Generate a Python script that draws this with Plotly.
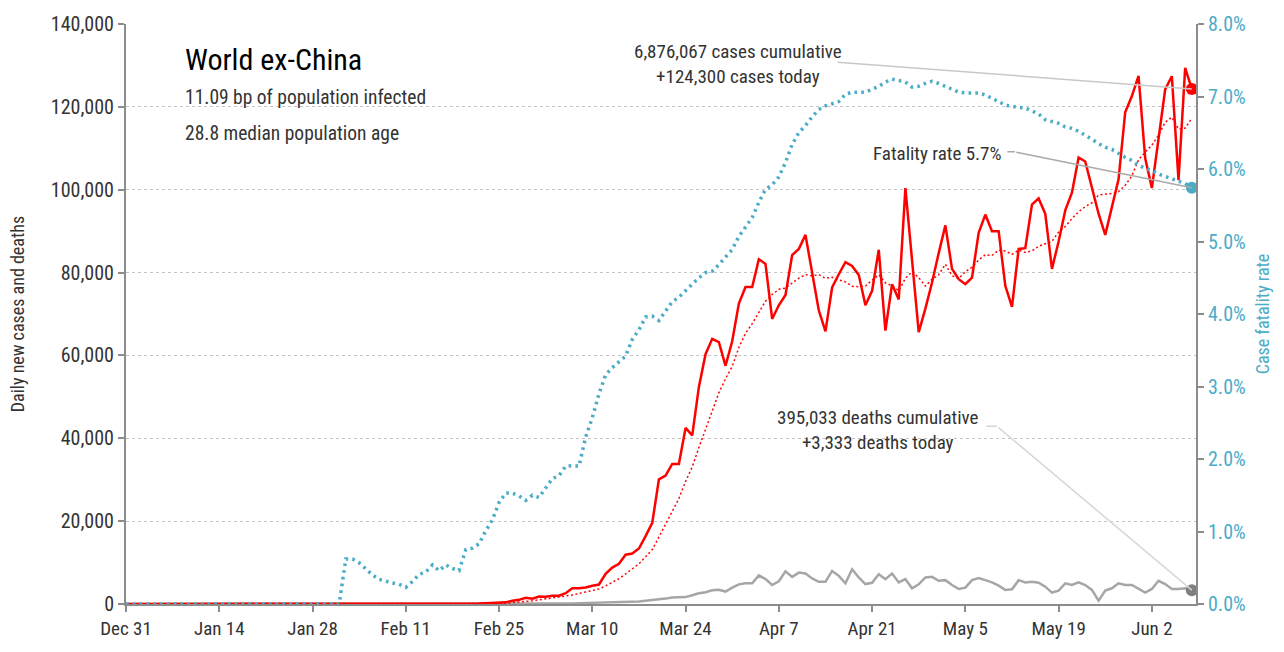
import pandas as pd
import plotly.graph_objects as go

dates = pd.date_range("2019-12-31", periods=161, freq="D")

daily_cases = (
    [0, 0, 0, 0, 0, 0, 0, 0, 0, 0, 0, 0, 0, 1, 0, 0, 1, 1, 0, 1]
    + [5, 3, 4, 10, 9, 14, 10, 15, 22, 8, 20, 25]
    + [20, 12, 15, 25, 40, 30, 15, 20, 40, 30, 50, 20, 30, 40, 60, 80, 100, 90, 90]
    + [100, 120, 150, 200, 220, 240, 400, 800, 1000, 1500, 1260, 1800, 1750, 2000]
    + [2000, 2600, 3800, 3800, 4000, 4400, 4700, 7300, 8800, 9700, 11900, 12200, 13400,
       16400, 19600, 30100, 31000, 33800, 33800, 42500, 40700, 52400, 60300, 64000,
       63200, 57500, 63400, 72500, 76500, 76500, 83200]
    + [82100, 68800, 72100, 74600, 84200, 85700, 89100, 80000, 70900, 65800, 76400,
       79600, 82500, 81600, 79400, 72100, 75600, 85500, 66000, 77200, 73500, 100400,
       83200, 65600, 71300, 77600, 84700, 91400, 80900, 78400, 77200]
    + [78800, 89600, 94000, 90000, 90000, 76800, 71700, 85700, 85900, 96400, 97900,
       94200, 80900, 87500, 95000, 99300, 107800, 106800, 100500, 94200, 89100, 95800,
       102500, 118700, 122600, 127500, 107600, 100400, 112800, 124200, 127400, 102300,
       129400, 124300]
)

daily_deaths = (
    [0] * 33
    + [1, 0, 0, 0, 0, 0, 0, 0, 0, 0, 1, 0, 0, 1, 2, 1, 3, 5]
    + [8, 10, 12, 15, 12, 20, 15, 30, 40, 45, 50, 55, 70, 90]
    + [100, 120, 150, 200, 230, 250, 300, 330, 380, 400, 420, 500, 630, 790, 900, 1180,
       1300, 1580, 1700, 1660, 2130, 2600, 2840, 3320, 3450, 3000, 3950, 4740, 4980,
       4980, 6900, 6000, 4580, 5500]
    + [7900, 6550, 7580, 7350, 6160, 5370, 5370, 7980, 6790, 4980, 8370, 6400, 4820,
       5130, 7190, 6000, 7350, 5210, 6000, 3790, 4740, 6400, 6550, 5610, 5760, 4580,
       3630, 3950, 5760, 6240, 5760, 5210, 4420, 3400, 3550, 5760, 5210, 5370, 5130,
       4180, 2760, 3240, 4980, 4580, 5210, 4580, 3400, 790, 3240, 3790, 4980, 4580,
       4580, 3630, 2760, 3630, 5610, 4820, 3630, 3630, 3790, 3333]
)

fatality_rate = (
    [0.0] * 33
    + [0.62, 0.62, 0.57, 0.48, 0.40, 0.34, 0.31, 0.29, 0.27, 0.23, 0.31, 0.41, 0.44,
       0.54, 0.46, 0.54, 0.49, 0.46, 0.75, 0.77, 0.83, 1.01, 1.16, 1.40, 1.53, 1.53,
       1.49, 1.43, 1.50, 1.47, 1.60, 1.73, 1.77, 1.90, 1.91, 1.90, 2.30, 2.57, 2.90,
       3.16, 3.26, 3.34, 3.42, 3.65, 3.78, 3.96, 3.97, 3.91, 4.04, 4.17, 4.23, 4.32,
       4.42, 4.50, 4.57, 4.59, 4.68, 4.79, 4.89, 5.07, 5.20, 5.33, 5.54, 5.72, 5.78,
       5.89, 6.09, 6.34]
    + [6.50, 6.60, 6.72, 6.82, 6.87, 6.90, 6.93, 7.03, 7.06, 7.06, 7.06, 7.10, 7.14,
       7.20, 7.24, 7.22, 7.20, 7.13, 7.14, 7.18, 7.21, 7.18, 7.14, 7.11, 7.06, 7.05,
       7.05, 7.05, 7.02, 6.98, 6.93, 6.88, 6.86, 6.85, 6.84, 6.80, 6.76, 6.68, 6.66,
       6.63, 6.58, 6.56, 6.52, 6.47, 6.41, 6.35, 6.30, 6.27, 6.21, 6.16, 6.12, 6.05,
       6.01, 5.98, 5.93, 5.90, 5.87, 5.83, 5.80, 5.74]
)

# 7-day trailing average of the daily cases (as drawn in the chart)
cases_7d = pd.Series(daily_cases).rolling(7, min_periods=1).mean().tolist()

title = "World ex-China"
subtitle_lines = ["11.09 bp of population infected", "28.8 median population age"]
cases_note = "6,876,067 cases cumulative<br>+124,300 cases today"
rate_note = "Fatality rate 5.7%"
deaths_note = "395,033 deaths cumulative<br>+3,333 deaths today"

FONT = "Liberation Sans Narrow, Roboto Condensed, DejaVu Sans Condensed, Roboto, sans-serif"
RED = "#FF0000"
BLUE = "#4BACC6"
GRAY = "#A6A6A6"
AXIS = "#8C8C8C"
TXT = "#333333"

fig = go.Figure()

fig.add_trace(go.Scatter(x=dates, y=daily_deaths, mode="lines",
                         line=dict(color=GRAY, width=2.5), hoverinfo="skip"))
fig.add_trace(go.Scatter(x=dates, y=cases_7d, mode="lines",
                         line=dict(color=RED, width=1.5, dash="2px,2.5px"), hoverinfo="skip"))
fig.add_trace(go.Scatter(x=dates, y=daily_cases, mode="lines",
                         line=dict(color=RED, width=2.5), hoverinfo="skip"))
fig.add_trace(go.Scatter(x=dates, y=fatality_rate, mode="lines", yaxis="y2",
                         line=dict(color=BLUE, width=3.5, dash="2.6px,4.2px"), hoverinfo="skip"))

fig.add_trace(go.Scatter(x=[dates[-1]], y=[daily_cases[-1]], mode="markers", cliponaxis=False,
                         marker=dict(color=RED, size=12)))
fig.add_trace(go.Scatter(x=[dates[-1]], y=[daily_deaths[-1]], mode="markers", cliponaxis=False,
                         marker=dict(color="#7F7F7F", size=12)))
fig.add_trace(go.Scatter(x=[dates[-1]], y=[fatality_rate[-1]], mode="markers", yaxis="y2",
                         cliponaxis=False, marker=dict(color=BLUE, size=12)))

annotations = [
    dict(text=title, xref="paper", yref="paper", x=0.053, y=0.939, xanchor="left",
         yanchor="middle", showarrow=False, font=dict(size=30, color="#000000")),
    dict(text=subtitle_lines[0], xref="paper", yref="paper", x=0.053, y=0.873,
         xanchor="left", yanchor="middle", showarrow=False, font=dict(size=19.5, color=TXT)),
    dict(text=subtitle_lines[1], xref="paper", yref="paper", x=0.053, y=0.812,
         xanchor="left", yanchor="middle", showarrow=False, font=dict(size=19.5, color=TXT)),
    dict(text=cases_note, xref="paper", yref="paper", x=0.5717, y=0.9306, xanchor="center",
         yanchor="middle", align="center", showarrow=False, font=dict(size=19, color=TXT)),
    dict(text=rate_note, xref="paper", yref="paper", x=0.7576, y=0.7766, xanchor="center",
         yanchor="middle", showarrow=False, font=dict(size=19, color=TXT)),
    dict(text=deaths_note, xref="paper", yref="paper", x=0.7025, y=0.2995, xanchor="center",
         yanchor="middle", align="center", showarrow=False, font=dict(size=19, color=TXT)),
    # leader lines
    dict(text="", x=dates[-1], y=daily_cases[-1], xref="x", yref="y", showarrow=True,
         arrowhead=0, arrowwidth=1.5, arrowcolor="#C8C8C8", ax=-356, ay=-27, standoff=0),
    dict(text="", x=dates[-1], y=fatality_rate[-1], xref="x", yref="y2", showarrow=True,
         arrowhead=0, arrowwidth=1.5, arrowcolor="#AAAAAA", ax=-177, ay=-36, standoff=0),
    dict(text="", x=dates[-1], y=fatality_rate[-1], xref="x", yref="y2", showarrow=True,
         arrowhead=0, arrowwidth=1.5, arrowcolor="#AAAAAA", ax=-9, ay=0, standoff=0,
         xshift=-177, yshift=36),
    dict(text="", x=dates[-1], y=daily_deaths[-1], xref="x", yref="y", showarrow=True,
         arrowhead=0, arrowwidth=1.5, arrowcolor="#D6D6D6", ax=-195, ay=-164, standoff=0),
    dict(text="", x=dates[-1], y=daily_deaths[-1], xref="x", yref="y", showarrow=True,
         arrowhead=0, arrowwidth=1.5, arrowcolor="#D6D6D6", ax=-12, ay=0, standoff=0,
         xshift=-195, yshift=164),
]

fig.update_layout(
    width=1284, height=652,
    margin=dict(l=126, r=88, t=20, b=41),
    paper_bgcolor="white", plot_bgcolor="white",
    showlegend=False,
    font=dict(family=FONT, color=TXT, size=17),
    annotations=annotations,
    xaxis=dict(
        type="date", range=["2019-12-31", "2020-06-08 15:00"],
        tick0="2019-12-31", dtick=14 * 86400000, tickformat="%b %-d",
        ticks="outside", ticklen=6, tickwidth=1.5, tickcolor=AXIS,
        showline=True, linecolor=AXIS, linewidth=2, showgrid=False, zeroline=False,
        tickfont=dict(size=19, color=TXT),
    ),
    yaxis=dict(
        range=[0, 140000], dtick=20000, tickformat=",",
        ticks="outside", ticklen=6, tickwidth=1.5, tickcolor=AXIS,
        showline=True, linecolor=AXIS, linewidth=2,
        showgrid=True, gridcolor="#C4C4C4", griddash="dot", gridwidth=1, zeroline=False,
        tickfont=dict(size=20, color=TXT),
        title=dict(text="Daily new cases and deaths", font=dict(size=18, color=TXT), standoff=22),
    ),
    yaxis2=dict(
        overlaying="y", side="right", range=[0, 8], dtick=1, tickformat=".1f", ticksuffix="%",
        ticks="outside", ticklen=6, tickwidth=1.5, tickcolor=AXIS,
        showline=True, linecolor=AXIS, linewidth=2, showgrid=False, zeroline=False,
        tickfont=dict(size=20, color=BLUE),
        title=dict(text="Case fatality rate", font=dict(size=18, color=BLUE), standoff=12),
    ),
)

fig.write_html("out.html", config={"displayModeBar": False},
               post_script="document.body.style.margin='0px';")
